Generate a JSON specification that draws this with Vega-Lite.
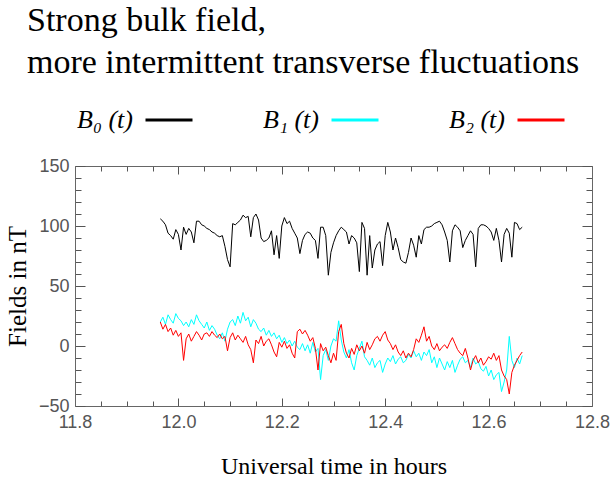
{
"$schema": "https://vega.github.io/schema/vega-lite/v6.json",
"width": 517, "height": 240,
"autosize": "none",
"padding": {"left": 75, "top": 166, "right": 21, "bottom": 77},
"background": "white",
"config": {"view": {"stroke": null}, "font": "Liberation Serif", "title": {"font": "Liberation Serif", "fontSize": 34, "fontWeight": "normal", "color": "black"}, "style": {"group-title": {"font": "Liberation Serif", "fontWeight": "normal"}}},
"title": {"text": ["Strong bulk field,", "more intermittent transverse fluctuations"], "anchor": "start", "frame": "group", "font": "Liberation Serif", "fontSize": 34, "fontWeight": "normal", "color": "black", "lineHeight": 42, "dx": -48, "offset": 15},
"data": {"values": [
{"t":11.965,"B0":106,"B1":20,"B2":20},
{"t":11.970,"B0":104,"B1":24,"B2":14},
{"t":11.975,"B0":101,"B1":18,"B2":18},
{"t":11.980,"B0":94,"B1":26,"B2":12},
{"t":11.985,"B0":92,"B1":22,"B2":15},
{"t":11.990,"B0":89,"B1":19,"B2":9},
{"t":11.995,"B0":97,"B1":27,"B2":13},
{"t":12.000,"B0":93,"B1":23,"B2":8},
{"t":12.005,"B0":80,"B1":21,"B2":11},
{"t":12.010,"B0":99,"B1":17,"B2":-12},
{"t":12.015,"B0":93,"B1":20,"B2":6},
{"t":12.020,"B0":98,"B1":16,"B2":10},
{"t":12.025,"B0":95,"B1":22,"B2":4},
{"t":12.030,"B0":86,"B1":18,"B2":8},
{"t":12.035,"B0":104,"B1":26,"B2":12},
{"t":12.040,"B0":104,"B1":21,"B2":9},
{"t":12.045,"B0":101,"B1":18,"B2":5},
{"t":12.050,"B0":100,"B1":15,"B2":10},
{"t":12.055,"B0":98,"B1":20,"B2":11},
{"t":12.060,"B0":97,"B1":13,"B2":8},
{"t":12.065,"B0":95,"B1":17,"B2":12},
{"t":12.070,"B0":94,"B1":14,"B2":9},
{"t":12.075,"B0":92,"B1":9,"B2":7},
{"t":12.080,"B0":91,"B1":6,"B2":10},
{"t":12.085,"B0":92,"B1":11,"B2":6},
{"t":12.090,"B0":83,"B1":4,"B2":8},
{"t":12.095,"B0":72,"B1":14,"B2":-4},
{"t":12.100,"B0":66,"B1":20,"B2":7},
{"t":12.105,"B0":102,"B1":22,"B2":11},
{"t":12.110,"B0":101,"B1":17,"B2":5},
{"t":12.115,"B0":103,"B1":25,"B2":9},
{"t":12.120,"B0":105,"B1":19,"B2":6},
{"t":12.125,"B0":109,"B1":28,"B2":3},
{"t":12.130,"B0":107,"B1":21,"B2":8},
{"t":12.135,"B0":108,"B1":24,"B2":1},
{"t":12.140,"B0":91,"B1":16,"B2":-3},
{"t":12.145,"B0":107,"B1":22,"B2":-14},
{"t":12.150,"B0":110,"B1":19,"B2":5},
{"t":12.155,"B0":105,"B1":14,"B2":2},
{"t":12.160,"B0":90,"B1":12,"B2":8},
{"t":12.165,"B0":87,"B1":15,"B2":0},
{"t":12.170,"B0":88,"B1":9,"B2":4},
{"t":12.175,"B0":90,"B1":13,"B2":6},
{"t":12.180,"B0":96,"B1":8,"B2":1},
{"t":12.185,"B0":76,"B1":11,"B2":-5},
{"t":12.190,"B0":92,"B1":6,"B2":-9},
{"t":12.195,"B0":73,"B1":9,"B2":3},
{"t":12.200,"B0":100,"B1":3,"B2":-1},
{"t":12.205,"B0":107,"B1":7,"B2":4},
{"t":12.210,"B0":102,"B1":2,"B2":-2},
{"t":12.215,"B0":104,"B1":5,"B2":1},
{"t":12.220,"B0":98,"B1":0,"B2":-6},
{"t":12.225,"B0":94,"B1":4,"B2":-10},
{"t":12.230,"B0":90,"B1":-1,"B2":12},
{"t":12.235,"B0":77,"B1":-3,"B2":14},
{"t":12.240,"B0":88,"B1":2,"B2":10},
{"t":12.245,"B0":93,"B1":-4,"B2":13},
{"t":12.250,"B0":95,"B1":1,"B2":9},
{"t":12.255,"B0":94,"B1":-6,"B2":4},
{"t":12.260,"B0":90,"B1":3,"B2":7},
{"t":12.265,"B0":88,"B1":-5,"B2":-2},
{"t":12.270,"B0":73,"B1":-2,"B2":-20},
{"t":12.275,"B0":99,"B1":-28,"B2":2},
{"t":12.280,"B0":99,"B1":-8,"B2":-4},
{"t":12.285,"B0":92,"B1":-3,"B2":-1},
{"t":12.290,"B0":59,"B1":-12,"B2":-8},
{"t":12.295,"B0":78,"B1":0,"B2":-14},
{"t":12.300,"B0":86,"B1":6,"B2":-6},
{"t":12.305,"B0":92,"B1":4,"B2":-12},
{"t":12.310,"B0":96,"B1":21,"B2":12},
{"t":12.315,"B0":99,"B1":5,"B2":18},
{"t":12.320,"B0":97,"B1":-5,"B2":2},
{"t":12.325,"B0":95,"B1":-10,"B2":-6},
{"t":12.330,"B0":85,"B1":-3,"B2":-10},
{"t":12.335,"B0":92,"B1":-14,"B2":-2},
{"t":12.340,"B0":90,"B1":-20,"B2":-7},
{"t":12.345,"B0":86,"B1":-8,"B2":1},
{"t":12.350,"B0":62,"B1":-2,"B2":-4},
{"t":12.355,"B0":103,"B1":4,"B2":0},
{"t":12.360,"B0":98,"B1":-9,"B2":-6},
{"t":12.365,"B0":59,"B1":-12,"B2":3},
{"t":12.370,"B0":92,"B1":-16,"B2":-3},
{"t":12.375,"B0":65,"B1":-10,"B2":1},
{"t":12.380,"B0":80,"B1":-18,"B2":6},
{"t":12.385,"B0":85,"B1":-14,"B2":8},
{"t":12.390,"B0":87,"B1":-12,"B2":4},
{"t":12.395,"B0":67,"B1":-22,"B2":9},
{"t":12.400,"B0":92,"B1":-15,"B2":12},
{"t":12.405,"B0":103,"B1":-10,"B2":5},
{"t":12.410,"B0":95,"B1":-13,"B2":2},
{"t":12.415,"B0":80,"B1":-8,"B2":-3},
{"t":12.420,"B0":90,"B1":-15,"B2":1},
{"t":12.425,"B0":82,"B1":-11,"B2":-5},
{"t":12.430,"B0":72,"B1":-9,"B2":-8},
{"t":12.435,"B0":70,"B1":-14,"B2":-4},
{"t":12.440,"B0":69,"B1":-12,"B2":-10},
{"t":12.445,"B0":78,"B1":-7,"B2":-6},
{"t":12.450,"B0":90,"B1":-10,"B2":-9},
{"t":12.455,"B0":84,"B1":-4,"B2":-3},
{"t":12.460,"B0":74,"B1":-9,"B2":6},
{"t":12.465,"B0":92,"B1":-6,"B2":3},
{"t":12.470,"B0":85,"B1":-12,"B2":9},
{"t":12.475,"B0":97,"B1":-5,"B2":16},
{"t":12.480,"B0":99,"B1":-8,"B2":4},
{"t":12.485,"B0":99,"B1":-3,"B2":8},
{"t":12.490,"B0":100,"B1":-14,"B2":0},
{"t":12.495,"B0":102,"B1":-9,"B2":-3},
{"t":12.500,"B0":103,"B1":-18,"B2":2},
{"t":12.505,"B0":104,"B1":-10,"B2":-4},
{"t":12.510,"B0":101,"B1":-15,"B2":-1},
{"t":12.515,"B0":95,"B1":-20,"B2":1},
{"t":12.520,"B0":88,"B1":-13,"B2":-2},
{"t":12.525,"B0":70,"B1":-18,"B2":3},
{"t":12.530,"B0":96,"B1":-12,"B2":7},
{"t":12.535,"B0":101,"B1":-22,"B2":2},
{"t":12.540,"B0":99,"B1":-16,"B2":-3},
{"t":12.545,"B0":96,"B1":-11,"B2":-6},
{"t":12.550,"B0":82,"B1":-9,"B2":-8},
{"t":12.555,"B0":88,"B1":-14,"B2":-2},
{"t":12.560,"B0":92,"B1":-12,"B2":-10},
{"t":12.565,"B0":96,"B1":-18,"B2":-20},
{"t":12.570,"B0":93,"B1":-10,"B2":-12},
{"t":12.575,"B0":66,"B1":-15,"B2":-8},
{"t":12.580,"B0":98,"B1":-13,"B2":-14},
{"t":12.585,"B0":101,"B1":-19,"B2":-10},
{"t":12.590,"B0":101,"B1":-21,"B2":-16},
{"t":12.595,"B0":100,"B1":-17,"B2":-13},
{"t":12.600,"B0":98,"B1":-25,"B2":-9},
{"t":12.605,"B0":95,"B1":-20,"B2":-11},
{"t":12.610,"B0":88,"B1":-28,"B2":-6},
{"t":12.615,"B0":98,"B1":-24,"B2":-12},
{"t":12.620,"B0":88,"B1":-22,"B2":-8},
{"t":12.625,"B0":70,"B1":-38,"B2":-20},
{"t":12.630,"B0":93,"B1":-30,"B2":-25},
{"t":12.635,"B0":98,"B1":-20,"B2":-28},
{"t":12.640,"B0":94,"B1":8,"B2":-40},
{"t":12.645,"B0":74,"B1":-12,"B2":-22},
{"t":12.650,"B0":103,"B1":-18,"B2":-16},
{"t":12.655,"B0":102,"B1":-10,"B2":-12},
{"t":12.660,"B0":97,"B1":-15,"B2":-8},
{"t":12.665,"B0":99,"B1":-8,"B2":-5}
]},
"transform": [{"fold": ["B0", "B1", "B2"], "as": ["s", "v"]}],
"layer": [
{
"transform": [{"filter": "datum.s == 'B0'"}],
"mark": {"type": "line", "strokeWidth": 1},
"encoding": {
"x": {"field": "t", "type": "quantitative", "scale": {"domain": [11.8, 12.8], "nice": false, "zero": false},
 "axis": {"orient": "bottom", "values": [11.8,11.85,11.9,11.95,12.0,12.05,12.1,12.15,12.2,12.25,12.3,12.35,12.4,12.45,12.5,12.55,12.6,12.65,12.7,12.75,12.8],
 "labelExpr": "abs(datum.value*5-round(datum.value*5))<0.001 ? format(datum.value,'.1f') : ''",
 "tickSize": {"condition": {"test": "abs(datum.value*5-round(datum.value*5))<0.001", "value": -8}, "value": -5},
 "labelPadding": 15, "labelOverlap": false, "labelFlush": false, "grid": false,
 "labelFont": "Liberation Sans", "labelFontSize": 18, "labelColor": "#555", "domainColor": "#666", "tickColor": "#555",
 "title": "Universal time in hours", "titleFont": "Liberation Serif", "titleFontSize": 24, "titleFontWeight": "normal", "titleColor": "black", "titlePadding": 20}},
"y": {"field": "v", "type": "quantitative", "scale": {"domain": [-50, 150], "nice": false, "zero": false},
 "axis": {"orient": "left", "values": [-50,-40,-30,-20,-10,0,10,20,30,40,50,60,70,80,90,100,110,120,130,140,150],
 "labelExpr": "abs(datum.value/50-round(datum.value/50))<0.001 ? format(datum.value,'d') : ''",
 "tickSize": {"condition": {"test": "abs(datum.value/50-round(datum.value/50))<0.001", "value": -10}, "value": -6},
 "labelPadding": 16, "labelOverlap": false, "labelFlush": false, "grid": false,
 "labelFont": "Liberation Sans", "labelFontSize": 18, "labelColor": "#555", "domainColor": "#666", "tickColor": "#555",
 "title": "Fields in nT", "titleFont": "Liberation Serif", "titleFontSize": 25, "titleFontWeight": "normal", "titleColor": "black", "titlePadding": 8}},
"color": {"field": "s", "type": "nominal", "scale": {"domain": ["B0", "B1", "B2"], "range": ["#000000", "#00ffff", "#ff0000"]},
 "legend": {"orient": "none", "legendX": 2, "legendY": -71, "direction": "horizontal", "title": null,
 "symbolType": "stroke", "symbolStrokeWidth": 3, "symbolSize": 2209, "symbolOffset": 67, "labelOffset": -117,
 "labelFont": "Liberation Serif", "labelFontSize": 26, "labelFontStyle": "italic", "labelColor": "black", "labelLimit": 0,
 "columnPadding": 64,
 "labelExpr": "datum.label == 'B0' ? 'B₀ (t)' : datum.label == 'B1' ? 'B₁ (t)' : 'B₂ (t)'"}}
}
},
{
"transform": [{"filter": "datum.s == 'B1'"}],
"mark": {"type": "line", "strokeWidth": 1},
"encoding": {
"x": {"field": "t", "type": "quantitative",
 "axis": {"orient": "top", "values": [11.8,11.85,11.9,11.95,12.0,12.05,12.1,12.15,12.2,12.25,12.3,12.35,12.4,12.45,12.5,12.55,12.6,12.65,12.7,12.75,12.8],
 "labels": false, "title": null, "grid": false, "domainColor": "#666", "tickColor": "#555",
 "tickSize": {"condition": {"test": "abs(datum.value*5-round(datum.value*5))<0.001", "value": -8}, "value": -5}}},
"y": {"field": "v", "type": "quantitative",
 "axis": {"orient": "right", "values": [-50,-40,-30,-20,-10,0,10,20,30,40,50,60,70,80,90,100,110,120,130,140,150],
 "labels": false, "title": null, "grid": false, "domainColor": "#666", "tickColor": "#555",
 "tickSize": {"condition": {"test": "abs(datum.value/50-round(datum.value/50))<0.001", "value": -10}, "value": -6}}},
"color": {"field": "s", "type": "nominal"}
}
},
{
"transform": [{"filter": "datum.s == 'B2'"}],
"mark": {"type": "line", "strokeWidth": 1},
"encoding": {
"x": {"field": "t", "type": "quantitative", "axis": null},
"y": {"field": "v", "type": "quantitative", "axis": null},
"color": {"field": "s", "type": "nominal"}
}
}
],
"resolve": {"axis": {"x": "independent", "y": "independent"}}
}
